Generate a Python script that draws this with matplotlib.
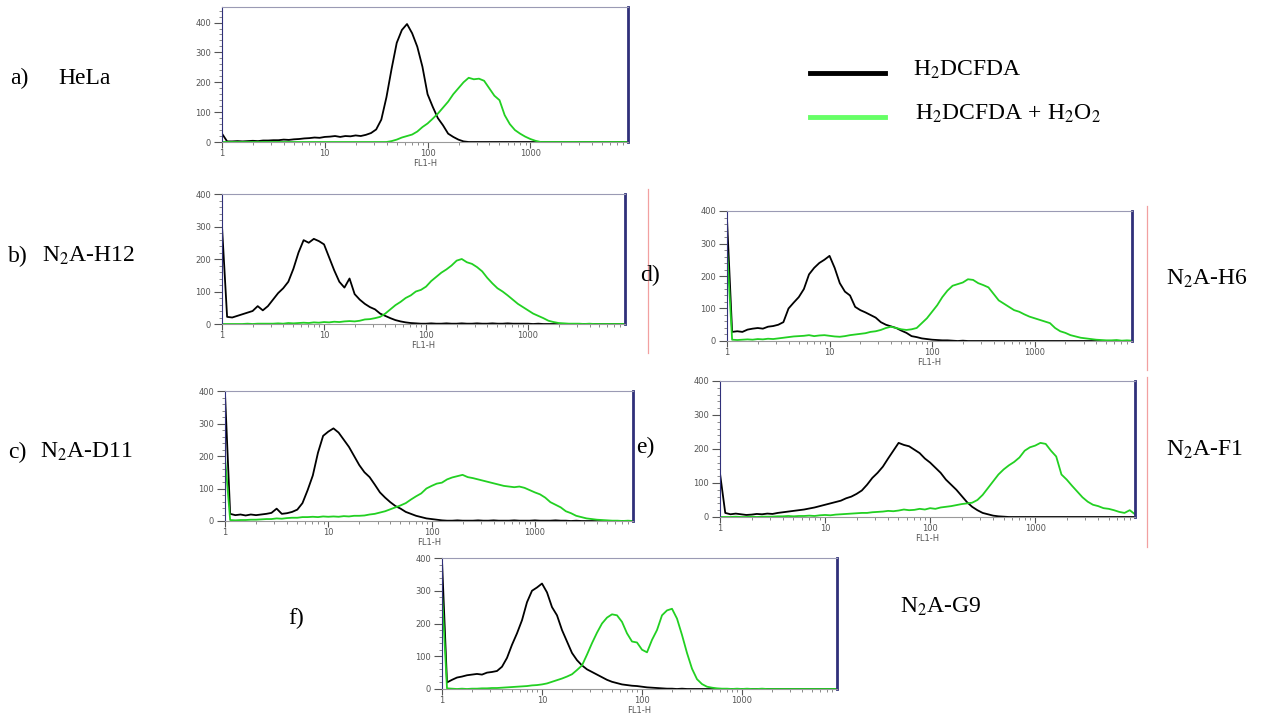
"""Flow cytometry ROS histograms (H2DCFDA vs H2DCFDA + H2O2) for 6 cell lines"""
import numpy as np
import matplotlib
matplotlib.use('Agg')
import matplotlib.pyplot as plt
from matplotlib.lines import Line2D
from matplotlib.ticker import FixedLocator, LogLocator, MultipleLocator, NullFormatter

plt.rcParams['font.family'] = ['Liberation Serif', 'DejaVu Serif']
plt.rcParams['mathtext.fontset'] = 'stix'

# FL1-H channel positions (log10), shared by all histograms
LOG_FL1 = [0.00, 0.05, 0.10, 0.15, 0.20, 0.25, 0.30, 0.35, 0.40, 0.45,
           0.50, 0.55, 0.60, 0.65, 0.70, 0.75, 0.80, 0.85, 0.90, 0.95,
           1.00, 1.05, 1.10, 1.15, 1.20, 1.25, 1.30, 1.35, 1.40, 1.45,
           1.50, 1.55, 1.60, 1.65, 1.70, 1.75, 1.80, 1.85, 1.90, 1.95,
           2.00, 2.05, 2.10, 2.15, 2.20, 2.25, 2.30, 2.35, 2.40, 2.45,
           2.50, 2.55, 2.60, 2.65, 2.70, 2.75, 2.80, 2.85, 2.90, 2.95,
           3.00, 3.05, 3.10, 3.15, 3.20, 3.25, 3.30, 3.35, 3.40, 3.45,
           3.50, 3.55, 3.60, 3.65, 3.70, 3.75, 3.80, 3.85, 3.90, 3.95]

# a) HeLa
hela_dcf = [28, 2, 2, 3, 2, 3, 4, 3, 5, 5,
            6, 6, 8, 7, 9, 10, 12, 13, 15, 14,
            17, 18, 20, 17, 20, 19, 22, 20, 24, 30,
            42, 75, 150, 245, 332, 375, 395, 364, 319, 252,
            160, 118, 80, 56, 28, 17, 8, 2, 0, 0,
            0, 0, 0, 0, 0, 0, 0, 0, 0, 0,
            0, 0, 0, 0, 0, 0, 0, 0, 0, 0,
            0, 0, 0, 0, 0, 0, 0, 0, 0, 0]
hela_h2o2 = [0, 0, 0, 0, 0, 0, 0, 0, 0, 0,
             0, 0, 0, 0, 0, 0, 0, 0, 0, 0,
             0, 0, 0, 0, 0, 0, 0, 0, 0, 0,
             0, 0, 0, 3, 8, 15, 20, 25, 35, 50,
             62, 78, 95, 115, 135, 160, 180, 200, 215, 210,
             212, 205, 180, 155, 140, 90, 60, 40, 28, 18,
             10, 4, 0, 0, 0, 0, 0, 0, 0, 0,
             0, 0, 0, 0, 0, 0, 0, 0, 0, 0]

# b) N2A-H12
h12_dcf = [300, 22, 20, 25, 30, 35, 40, 55, 42, 55,
           75, 95, 110, 130, 170, 220, 258, 250, 262, 255,
           245, 205, 165, 130, 112, 140, 92, 75, 62, 52,
           45, 32, 25, 18, 12, 8, 5, 3, 2, 1,
           1, 2, 1, 1, 2, 1, 1, 2, 1, 1,
           2, 1, 1, 2, 1, 1, 2, 1, 1, 1,
           1, 0, 1, 0, 0, 0, 0, 0, 0, 0,
           0, 0, 0, 0, 0, 0, 0, 0, 0, 0]
h12_h2o2 = [0, 0, 0, 0, 0, 1, 0, 1, 1, 1,
            1, 2, 1, 3, 2, 3, 4, 3, 5, 4,
            6, 5, 7, 6, 8, 9, 8, 10, 14, 15,
            18, 22, 32, 45, 58, 68, 80, 88, 100, 105,
            115, 132, 145, 158, 168, 180, 195, 200, 190, 185,
            175, 162, 142, 125, 110, 100, 88, 75, 62, 52,
            42, 32, 25, 18, 10, 6, 3, 2, 1, 1,
            1, 0, 1, 0, 0, 0, 0, 0, 0, 0]

# c) N2A-D11
d11_dcf = [392, 22, 18, 20, 17, 20, 18, 20, 22, 25,
           38, 22, 24, 28, 35, 55, 95, 140, 210, 262,
           275, 285, 272, 250, 228, 200, 172, 150, 135, 112,
           88, 72, 58, 46, 38, 28, 22, 16, 12, 8,
           6, 4, 2, 1, 1, 2, 1, 1, 1, 2,
           1, 1, 2, 1, 1, 1, 2, 1, 1, 1,
           2, 1, 1, 1, 2, 1, 1, 0, 1, 0,
           0, 0, 0, 0, 0, 0, 0, 0, 0, 0]
d11_h2o2 = [197, 3, 2, 3, 3, 4, 4, 5, 6, 6,
            8, 7, 9, 10, 10, 12, 12, 13, 12, 14,
            13, 14, 13, 15, 14, 16, 16, 17, 20, 22,
            26, 30, 36, 42, 48, 55, 66, 76, 85, 100,
            108, 115, 118, 128, 134, 138, 142, 135, 132, 128,
            124, 120, 116, 112, 108, 106, 104, 106, 102, 95,
            88, 82, 72, 58, 50, 42, 30, 24, 16, 12,
            8, 6, 4, 3, 2, 1, 1, 0, 1, 0]

# d) N2A-H6
h6_dcf = [376, 28, 30, 28, 35, 38, 40, 38, 44, 46,
          50, 58, 100, 118, 135, 160, 205, 225, 240, 250,
          262, 225, 178, 152, 140, 105, 95, 88, 80, 72,
          58, 50, 45, 40, 32, 25, 15, 12, 8, 6,
          4, 3, 2, 2, 1, 0, 1, 0, 0, 0,
          0, 0, 0, 0, 0, 0, 0, 0, 0, 0,
          0, 0, 0, 0, 0, 0, 0, 0, 0, 0,
          0, 0, 0, 0, 0, 0, 0, 0, 0, 0]
h6_h2o2 = [284, 4, 3, 4, 5, 4, 6, 5, 7, 6,
           8, 10, 12, 14, 15, 16, 18, 15, 17, 18,
           16, 14, 13, 15, 18, 20, 22, 24, 28, 30,
           34, 40, 44, 40, 36, 34, 36, 40, 55, 70,
           90, 110, 135, 155, 170, 175, 180, 190, 188, 178,
           172, 165, 145, 125, 115, 105, 95, 90, 82, 75,
           70, 65, 60, 55, 40, 30, 25, 18, 14, 10,
           8, 6, 4, 3, 2, 2, 3, 1, 2, 1]

# e) N2A-F1
f1_dcf = [128, 12, 8, 10, 8, 6, 7, 9, 8, 10,
          9, 12, 14, 16, 18, 20, 22, 25, 28, 32,
          36, 40, 44, 48, 55, 60, 68, 78, 95, 115,
          130, 148, 172, 195, 218, 212, 208, 198, 188, 172,
          160, 145, 130, 110, 95, 80, 62, 44, 30, 20,
          12, 8, 4, 2, 1, 0, 0, 0, 0, 0,
          0, 0, 0, 0, 0, 0, 0, 0, 0, 0,
          0, 0, 0, 0, 0, 0, 0, 0, 0, 0]
f1_h2o2 = [0, 0, 0, 1, 0, 0, 1, 0, 1, 1,
           1, 2, 2, 3, 2, 3, 3, 4, 3, 5,
           6, 5, 7, 8, 9, 10, 11, 12, 12, 14,
           15, 16, 18, 17, 19, 22, 20, 21, 24, 22,
           26, 24, 28, 30, 32, 35, 38, 40, 42, 50,
           65, 85, 105, 125, 140, 152, 162, 175, 195, 205,
           210, 218, 215, 195, 178, 125, 110, 92, 75, 58,
           45, 36, 32, 26, 24, 20, 15, 12, 20, 8]

# f) N2A-G9
g9_dcf = [393, 20, 28, 35, 38, 42, 44, 46, 44, 50,
          52, 55, 68, 95, 135, 170, 210, 265, 300, 310,
          322, 295, 250, 225, 180, 145, 110, 88, 72, 60,
          52, 44, 36, 28, 22, 18, 14, 12, 10, 9,
          7, 5, 4, 3, 2, 1, 1, 0, 1, 0,
          0, 0, 0, 0, 0, 0, 0, 0, 0, 0,
          0, 0, 0, 0, 0, 0, 0, 0, 0, 0,
          0, 0, 0, 0, 0, 0, 0, 0, 0, 0]
g9_h2o2 = [296, 2, 1, 0, 1, 0, 1, 1, 2, 2,
           3, 3, 4, 5, 6, 7, 8, 9, 11, 12,
           14, 17, 22, 27, 32, 38, 45, 58, 72, 105,
           140, 172, 200, 218, 228, 225, 205, 170, 145, 142,
           120, 112, 150, 180, 225, 240, 245, 215, 165, 110,
           62, 30, 15, 7, 4, 2, 1, 1, 0, 1,
           0, 1, 0, 0, 1, 0, 0, 0, 0, 0,
           0, 0, 0, 0, 0, 0, 0, 0, 0, 0]

W, H = 1266, 718
GREEN = '#22d022'

# panel: (data, data, ymax, box in pixels left, right, top, bottom)
panels = [
    (hela_dcf, hela_h2o2, 452, (222, 628, 7, 142)),
    (h12_dcf, h12_h2o2, 400, (222, 625, 194, 324)),
    (d11_dcf, d11_h2o2, 400, (225, 633, 391, 521)),
    (h6_dcf, h6_h2o2, 400, (727, 1132, 211, 341)),
    (f1_dcf, f1_h2o2, 400, (720, 1135, 381, 517)),
    (g9_dcf, g9_h2o2, 400, (442, 837, 558, 689)),
]


def facs_axes(fig, box, ymax):
    """One histogram frame styled like CellQuest output"""
    l, r, t, b = box
    ax = fig.add_axes([l / W, 1 - b / H, (r - l) / W, (b - t) / H])
    ax.set_xscale('log')
    ax.set_xlim(1, 10 ** 3.95)
    ax.set_ylim(0, ymax)
    ax.xaxis.set_major_locator(FixedLocator([1, 10, 100, 1000]))
    ax.xaxis.set_minor_locator(LogLocator(base=10, subs=np.arange(2, 10)))
    ax.xaxis.set_minor_formatter(NullFormatter())
    ax.set_xticklabels(['1', '10', '100', '1000'])
    ax.yaxis.set_major_locator(FixedLocator([0, 100, 200, 300, 400]))
    ax.yaxis.set_minor_locator(MultipleLocator(20))
    ax.tick_params(which='major', direction='out', length=6, width=0.8,
                   color='#555555', labelsize=6, labelcolor='#555555', pad=2)
    ax.tick_params(axis='x', which='major', length=4, pad=1)
    ax.tick_params(which='minor', direction='out', length=2, width=0.6, color='#777777')
    for lab in ax.get_xticklabels() + ax.get_yticklabels():
        lab.set_family('DejaVu Sans')
    ax.set_xlabel('FL1-H', fontsize=6, color='#555555', family='DejaVu Sans', labelpad=1)
    ax.spines['top'].set_color('#9a9ab4')
    ax.spines['bottom'].set_color('#9a9a9a')
    ax.spines['left'].set_color('#30307a')
    ax.spines['right'].set_color('#30307a')
    ax.spines['right'].set_linewidth(2)
    ax.patch.set_alpha(0)
    return ax


fig = plt.figure(figsize=(W / 100, H / 100), dpi=100)
fl1 = 10 ** np.array(LOG_FL1)

for dcf, h2o2, ymax, box in panels:
    ax = facs_axes(fig, box, ymax)
    ax.plot(fl1, dcf, color='black', lw=1.3)
    ax.plot(fl1, h2o2, color=GREEN, lw=1.3)


def label(x, y, s):
    fig.text(x / W, 1 - y / H, s, fontsize=17, va='center', ha='left')


label(10, 78, 'a)')
label(58, 78, 'HeLa')
label(8, 256, 'b)')
label(42, 256, r'N$_2$A-H12')
label(8, 452, 'c)')
label(40, 452, r'N$_2$A-D11')
label(640, 275, 'd)')
label(1166, 279, r'N$_2$A-H6')
label(636, 447, 'e)')
label(1166, 450, r'N$_2$A-F1')
label(288, 618, 'f)')
label(900, 607, r'N$_2$A-G9')

# legend
fig.add_artist(Line2D([810 / W, 885 / W], [1 - 73 / H, 1 - 73 / H], color='black', lw=3.5))
fig.add_artist(Line2D([810 / W, 885 / W], [1 - 117 / H, 1 - 117 / H], color='#66ff66', lw=3.5))
label(913, 70, r'H$_2$DCFDA')
label(915, 114, r'H$_2$DCFDA + H$_2$O$_2$')

# thin separators from the original layout
for x, y0, y1 in [(648, 189, 353), (1147, 206, 370), (1147, 377, 547)]:
    fig.add_artist(Line2D([x / W, x / W], [1 - y0 / H, 1 - y1 / H], color='#f2a0a0', lw=0.9))

fig.savefig('out.png', dpi=100, facecolor='white')
plt.close(fig)
